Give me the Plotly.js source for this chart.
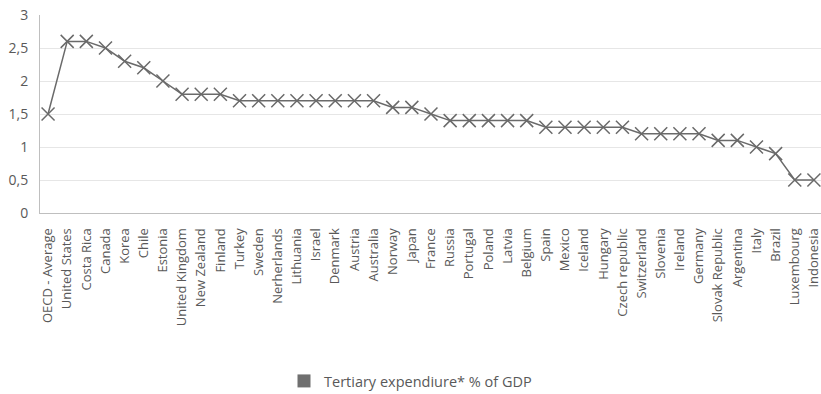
<!DOCTYPE html>
<html>
<head>
<meta charset="utf-8">
<script src="https://cdn.plot.ly/plotly-3.0.1.min.js"></script>
<style>html,body{margin:0;padding:0;background:#fff;}#chart{width:821px;height:394px;}</style>
</head>
<body>
<div id="chart"></div>
<script>
const countries = ["OECD - Average","United States","Costa Rica","Canada","Korea","Chile","Estonia","United Kingdom","New Zealand","Finland","Turkey","Sweden","Nerherlands","Lithuania","Israel","Denmark","Austria","Australia","Norway","Japan","France","Russia","Portugal","Poland","Latvia","Belgium","Spain","Mexico","Iceland","Hungary","Czech republic","Switzerland","Slovenia","Ireland","Germany","Slovak Republic","Argentina","Italy","Brazil","Luxembourg","Indonesia"];
const expenditure = [1.5,2.6,2.6,2.5,2.3,2.2,2.0,1.8,1.8,1.8,1.7,1.7,1.7,1.7,1.7,1.7,1.7,1.7,1.6,1.6,1.5,1.4,1.4,1.4,1.4,1.4,1.3,1.3,1.3,1.3,1.3,1.2,1.2,1.2,1.2,1.1,1.1,1.0,0.9,0.5,0.5];
const seriesName = "Tertiary expendiure* % of GDP";
const yTicks = [0,0.5,1,1.5,2,2.5,3];

const txt = "#595959";
const traces = [
  {
    type: "scatter", mode: "lines+markers",
    x: countries, y: expenditure,
    line: {color: "#6a6a6a", width: 1.5},
    marker: {symbol: "x-thin-open", size: 13, line: {color: "#6a6a6a", width: 1.5}, color: "#6a6a6a"},
    showlegend: false, hoverinfo: "x+y"
  },
  {
    type: "scatter", mode: "markers", x: [null], y: [null], name: seriesName,
    marker: {symbol: "square", size: 13, color: "#6f6f6f"}, showlegend: true
  }
];
const layout = {
  width: 821, height: 394,
  margin: {l: 40, r: 0, t: 15, b: 181},
  paper_bgcolor: "#fff", plot_bgcolor: "#fff",
  separators: ",.",
  font: {family: "Open Sans, sans-serif", color: txt},
  xaxis: {
    type: "category", range: [-0.42, 40.37],
    tickangle: -90, tickfont: {size: 13, color: txt},
    showgrid: false, showline: true, linecolor: "#bfbfbf", linewidth: 1,
    ticks: "", zeroline: false, automargin: false, ticklabelstandoff: 9
  },
  yaxis: {
    range: [0, 3], tickvals: yTicks,
    tickfont: {size: 14, color: txt},
    showgrid: true, gridcolor: "#e6e6e6", gridwidth: 1,
    showline: true, linecolor: "#bfbfbf", linewidth: 1,
    zeroline: false, ticks: "", ticklabelstandoff: 8, automargin: false
  },
  legend: {
    orientation: "h", xref: "container", yref: "container",
    x: 0.5, xanchor: "center", y: 0.033, yanchor: "middle",
    itemwidth: 30,
    font: {size: 14.5, color: txt}
  },
  showlegend: true
};
Plotly.newPlot("chart", traces, layout, {displayModeBar: false, staticPlot: true});
</script>
</body>
</html>
